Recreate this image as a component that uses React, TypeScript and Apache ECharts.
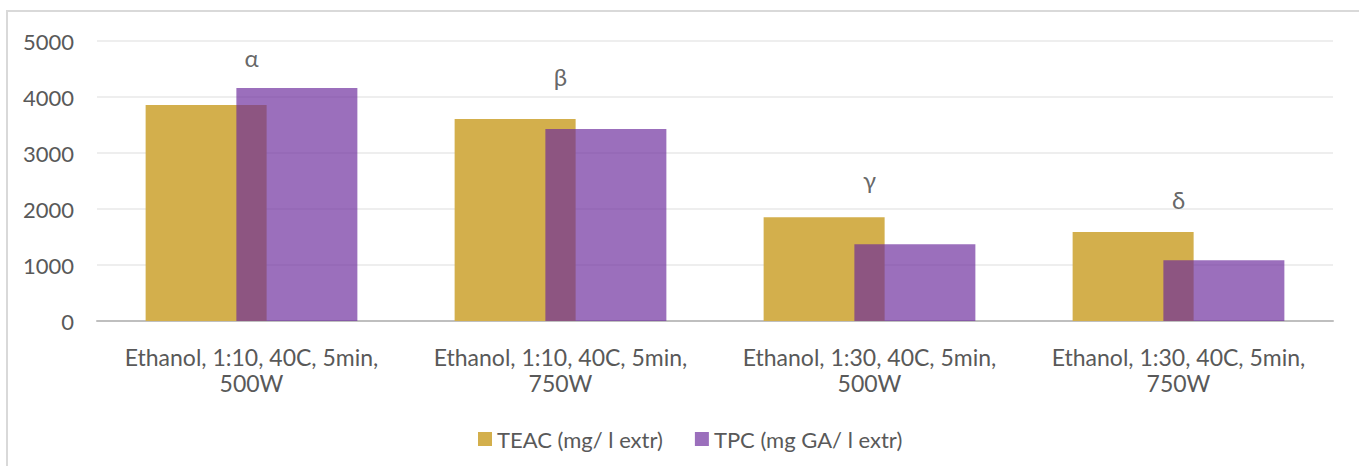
import React, { useEffect, useRef } from "react";
import * as echarts from "echarts";

// Extraction conditions (one group of bars each)
const categories = [
  "Ethanol, 1:10, 40C, 5min,\n500W",
  "Ethanol, 1:10, 40C, 5min,\n750W",
  "Ethanol, 1:30, 40C, 5min,\n500W",
  "Ethanol, 1:30, 40C, 5min,\n750W",
];

const seriesNames = ["TEAC (mg/ l extr)", "TPC (mg GA/ l extr)"];

// Antioxidant capacity and total phenolic content
const teacValues = [3857, 3607, 1852, 1589];
const tpcValues = [4161, 3429, 1370, 1084];

// Group markers and the heights at which they sit
const groupLetters = ["α", "β", "γ", "δ"];
const letterLevels = [4710, 4370, 2530, 2170];

const FONT = "Lato, 'Open Sans', 'DejaVu Sans', sans-serif";
const TEXT = "#595959";

export default function App() {
  const ref = useRef<HTMLDivElement>(null);

  useEffect(() => {
    if (!ref.current) return;
    const chart = echarts.init(ref.current, undefined, { renderer: "svg" });
    chart.setOption({
      animation: false,
      backgroundColor: "#ffffff",
      textStyle: { fontFamily: FONT },
      graphic: [
        {
          type: "rect",
          silent: true,
          z: -10,
          shape: { x: 7, y: 11, width: 1400, height: 500 },
          style: { fill: "none", stroke: "#D9D9D9", lineWidth: 2 },
        },
      ],
      grid: { left: 97, right: 26, top: 41, bottom: 145, containLabel: false },
      legend: {
        data: seriesNames,
        top: 421,
        left: 473,
        icon: "rect",
        itemWidth: 14,
        itemHeight: 14,
        itemGap: 32,
        selectedMode: false,
        textStyle: { fontSize: 22, color: TEXT, fontFamily: FONT, lineHeight: 26 },
      },
      xAxis: {
        type: "category",
        data: categories,
        axisTick: { show: false },
        axisLine: { lineStyle: { color: "#BFBFBF", width: 2 } },
        axisLabel: {
          interval: 0,
          color: TEXT,
          fontSize: 23,
          lineHeight: 26,
          margin: 23,
          fontFamily: FONT,
        },
      },
      yAxis: {
        type: "value",
        min: 0,
        max: 5000,
        interval: 1000,
        axisLine: { show: false },
        axisTick: { show: false },
        axisLabel: {
          color: TEXT,
          fontSize: 22,
          margin: 23,
          fontFamily: FONT,
          formatter: (v: number) => String(v),
        },
        splitLine: { lineStyle: { color: "#E8E8E8", width: 1.5 } },
      },
      series: [
        {
          name: seriesNames[0],
          type: "bar",
          data: teacValues,
          barWidth: 121,
          barGap: "-25%",
          itemStyle: { color: "#D3AF4C" },
        },
        {
          name: seriesNames[1],
          type: "bar",
          data: tpcValues,
          barWidth: 121,
          itemStyle: { color: "#6A289B", opacity: 0.67 },
        },
        {
          name: "letters",
          type: "scatter",
          data: letterLevels,
          symbolSize: 0,
          silent: true,
          z: 5,
          label: {
            show: true,
            position: "inside",
            formatter: (p: any) => groupLetters[p.dataIndex],
            fontSize: 24,
            color: "#404040",
            fontFamily: FONT,
          },
        },
      ],
    });
    return () => chart.dispose();
  }, []);

  return (
    <div
      ref={ref}
      style={{ position: "absolute", left: 0, top: 0, width: 1359, height: 466 }}
    />
  );
}
